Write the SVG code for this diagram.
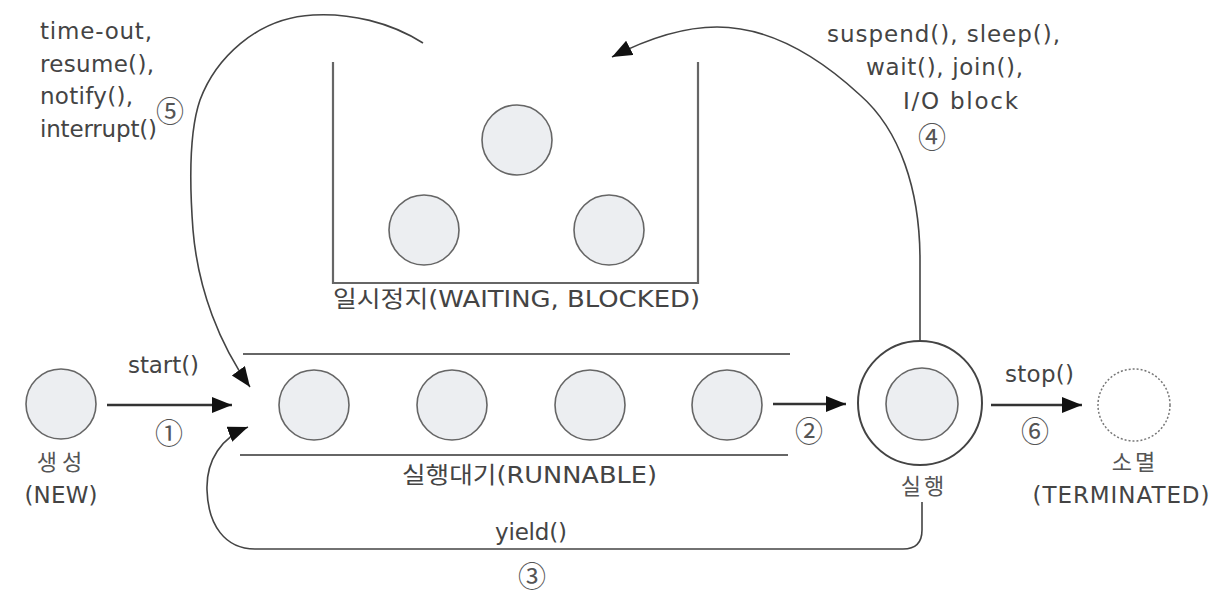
<svg xmlns="http://www.w3.org/2000/svg" width="1223" height="596" viewBox="0 0 1223 596">
<defs>
<style>
.t{font-family:"DejaVu Sans","Noto Sans CJK KR",sans-serif;font-size:23px;fill:#444}
.k{font-family:"Noto Sans CJK KR",sans-serif;font-size:22px;fill:#555}
.n{font-family:"Noto Sans CJK KR","DejaVu Sans",sans-serif;font-size:28px;fill:#555;text-anchor:middle;dominant-baseline:central}
.th{fill:#eceef1;stroke:#666;stroke-width:1.6}
.wall{fill:none;stroke:#666;stroke-width:2.2}
.arr{fill:none;stroke:#333;stroke-width:2.6}
.cur{fill:none;stroke:#444;stroke-width:1.6}
</style>
<marker id="ah" markerUnits="userSpaceOnUse" markerWidth="22" markerHeight="18" refX="20" refY="8" orient="auto" viewBox="0 0 22 18">
<path d="M0,0 L20,8 L0,16 z" fill="#111"/>
</marker>
</defs>
<rect width="1223" height="596" fill="#fff"/>

<g id="new">
<circle class="th" cx="61" cy="404" r="35"/>
<text class="k" x="62" y="470" text-anchor="middle" letter-spacing="5">생성</text>
<text class="t" x="61" y="503" text-anchor="middle" textLength="73">(NEW)</text>
</g>

<g id="runnable">
<line class="wall" x1="243" y1="354" x2="790" y2="354"/>
<line class="wall" x1="240" y1="455" x2="788" y2="455"/>
<circle class="th" cx="314" cy="405" r="35"/>
<circle class="th" cx="452" cy="405" r="35"/>
<circle class="th" cx="590" cy="405" r="35"/>
<circle class="th" cx="727" cy="405" r="35"/>
<text class="t" x="402" y="483" textLength="255" lengthAdjust="spacingAndGlyphs">실행대기(RUNNABLE)</text>
</g>

<g id="waiting">
<path class="wall" d="M333,62 L333,283 L698,283 L698,62"/>
<circle class="th" cx="517" cy="140" r="35"/>
<circle class="th" cx="424" cy="230" r="35"/>
<circle class="th" cx="609" cy="230" r="35"/>
<text class="t" x="333" y="307" textLength="367" lengthAdjust="spacingAndGlyphs">일시정지(WAITING, BLOCKED)</text>
</g>

<g id="running">
<circle cx="920" cy="403" r="62" fill="#fff" stroke="#444" stroke-width="2"/>
<circle class="th" cx="922" cy="404" r="36"/>
<text class="k" x="924" y="494" text-anchor="middle" letter-spacing="3">실행</text>
</g>

<g id="terminated">
<circle cx="1134" cy="405" r="36" fill="#fff" stroke="#777" stroke-width="1.5" stroke-dasharray="2 2"/>
<text class="k" x="1135" y="470" text-anchor="middle" letter-spacing="3">소멸</text>
<text class="t" x="1121" y="503" text-anchor="middle" textLength="177">(TERMINATED)</text>
</g>

<g id="connectors">
<line class="arr" x1="107" y1="405" x2="232" y2="405" marker-end="url(#ah)"/>
<line class="arr" x1="773" y1="404" x2="846" y2="404" marker-end="url(#ah)"/>
<line class="arr" x1="991" y1="405" x2="1082" y2="405" marker-end="url(#ah)"/>
<path class="cur" d="M922,502 L922,530 Q922,549 903,549 L255,549 C225,549 208,525 207,490 C206,460 222,437 248,427" marker-end="url(#ah)"/>
<path class="cur" d="M920,341 L920,260 C920,190 900,130 860,95 C820,58 770,27 717,27 C680,27 645,40 612,57" marker-end="url(#ah)"/>
<path class="cur" d="M423,43 C390,22 350,13 313,15 C255,18 215,60 200,100 C188,135 190,190 193,230 C198,290 220,345 250,387" marker-end="url(#ah)"/>
</g>

<g id="labels">
<text class="t" x="128" y="373" textLength="71">start()</text>
<text class="n" x="169" y="432">①</text>
<text class="n" x="809" y="430">②</text>
<text class="t" x="495" y="540" textLength="72">yield()</text>
<text class="n" x="532" y="575">③</text>
<text class="t" x="827" y="42" textLength="233">suspend(), sleep(),</text>
<text class="t" x="866" y="75" textLength="157">wait(), join(),</text>
<text class="t" x="903" y="109" textLength="115">I/O block</text>
<text class="n" x="932" y="136">④</text>
<text class="t" x="40" y="39" textLength="112">time-out,</text>
<text class="t" x="40" y="72" textLength="114">resume(),</text>
<text class="t" x="40" y="104" textLength="93">notify(),</text>
<text class="t" x="40" y="137" textLength="117">interrupt()</text>
<text class="n" x="170" y="110">⑤</text>
<text class="t" x="1005" y="382" textLength="69">stop()</text>
<text class="n" x="1035" y="430">⑥</text>
</g>
</svg>
